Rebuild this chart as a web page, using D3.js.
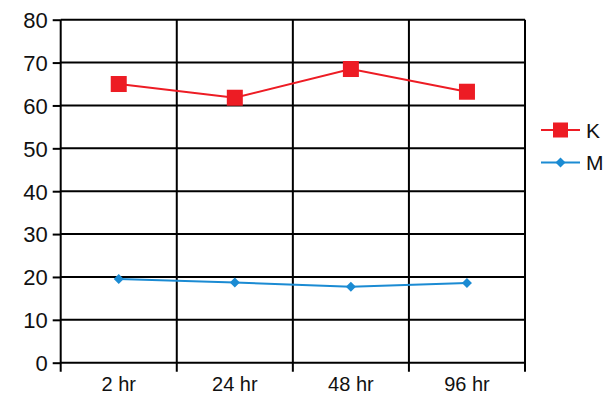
<!DOCTYPE html>
<html>
<head>
<meta charset="utf-8">
<script src="https://cdn.jsdelivr.net/npm/d3@7"></script>
<style>
  body { margin: 0; background: #fff; }
  text { font-family: "Liberation Sans", Arial, sans-serif; }
</style>
</head>
<body>
<div id="chart"></div>
<script>
const categories = ["2 hr", "24 hr", "48 hr", "96 hr"];
const kValues = [65.0, 61.8, 68.5, 63.2];
const mValues = [19.5, 18.7, 17.7, 18.6];
const yTicks = [0, 10, 20, 30, 40, 50, 60, 70, 80];

const width = 616, height = 396;
const margin = {top: 19.7, right: 91, bottom: 33.3, left: 60.7};

const red = "#ed1c24", blue = "#1b8bd3";

const svg = d3.select("#chart").append("svg")
    .attr("width", width)
    .attr("height", height);

const x = d3.scaleBand()
    .domain(categories)
    .range([margin.left, width - margin.right]);

const y = d3.scaleLinear()
    .domain([0, 80])
    .range([height - margin.bottom, margin.top]);

// horizontal grid
svg.append("g")
    .selectAll("line")
    .data(yTicks)
    .join("line")
    .attr("x1", margin.left)
    .attr("x2", width - margin.right)
    .attr("y1", d => y(d))
    .attr("y2", d => y(d))
    .attr("stroke", "#000")
    .attr("stroke-width", 2);

// vertical grid at band edges
const edges = categories.map(c => x(c)).concat([x.range()[1]]);
svg.append("g")
    .selectAll("line")
    .data(edges)
    .join("line")
    .attr("x1", d => d)
    .attr("x2", d => d)
    .attr("y1", margin.top)
    .attr("y2", y(0) + 9)
    .attr("stroke", "#000")
    .attr("stroke-width", 2);

// y axis
svg.append("g")
    .attr("transform", `translate(${margin.left},0)`)
    .call(d3.axisLeft(y).tickValues(yTicks).tickSize(8).tickPadding(5))
    .call(g => g.select(".domain").remove())
    .call(g => g.selectAll(".tick line").attr("stroke-width", 2))
    .call(g => g.selectAll(".tick text")
        .attr("font-size", 22)
        .attr("fill", "#111")
        .attr("dy", "0.36em")
        .attr("font-family", "Liberation Sans, Arial, sans-serif"));

// x axis labels
svg.append("g")
    .attr("transform", `translate(0,${y(0)})`)
    .call(d3.axisBottom(x).tickSize(0))
    .call(g => g.select(".domain").remove())
    .call(g => g.selectAll(".tick text")
        .attr("y", 28.5)
        .attr("dy", 0)
        .attr("font-size", 20)
        .attr("fill", "#111")
        .attr("font-family", "Liberation Sans, Arial, sans-serif"));

const line = d3.line()
    .x((d, i) => x(categories[i]) + x.bandwidth() / 2)
    .y(d => y(d));

// K series
svg.append("path")
    .datum(kValues)
    .attr("fill", "none")
    .attr("stroke", red)
    .attr("stroke-width", 2)
    .attr("d", line);

svg.append("g")
    .selectAll("rect")
    .data(kValues)
    .join("rect")
    .attr("x", (d, i) => x(categories[i]) + x.bandwidth() / 2 - 8)
    .attr("y", d => y(d) - 8)
    .attr("width", 16)
    .attr("height", 16)
    .attr("fill", red);

// M series
svg.append("path")
    .datum(mValues)
    .attr("fill", "none")
    .attr("stroke", blue)
    .attr("stroke-width", 2)
    .attr("d", line);

const diamond = d3.symbol().type(d3.symbolDiamond2).size(64);
svg.append("g")
    .selectAll("path")
    .data(mValues)
    .join("path")
    .attr("transform", (d, i) => `translate(${x(categories[i]) + x.bandwidth() / 2},${y(d)})`)
    .attr("d", diamond)
    .attr("fill", blue);

// legend
const legend = svg.append("g").attr("transform", "translate(541,130)");
const items = [{name: "K", color: red, shape: "square"}, {name: "M", color: blue, shape: "diamond"}];
const li = legend.selectAll("g")
    .data(items)
    .join("g")
    .attr("transform", (d, i) => `translate(0,${i * 32.5})`);
li.append("line")
    .attr("x1", 0).attr("x2", 39)
    .attr("stroke", d => d.color)
    .attr("stroke-width", 2);
li.filter(d => d.shape === "square").append("rect")
    .attr("x", 12).attr("y", -7.5).attr("width", 15).attr("height", 15)
    .attr("fill", d => d.color);
li.filter(d => d.shape === "diamond").append("path")
    .attr("transform", "translate(19.5,0)")
    .attr("d", diamond)
    .attr("fill", d => d.color);
li.append("text")
    .attr("x", 45)
    .attr("y", 7.5)
    .attr("font-size", 21)
    .attr("fill", "#111")
    .text(d => d.name);
</script>
</body>
</html>
